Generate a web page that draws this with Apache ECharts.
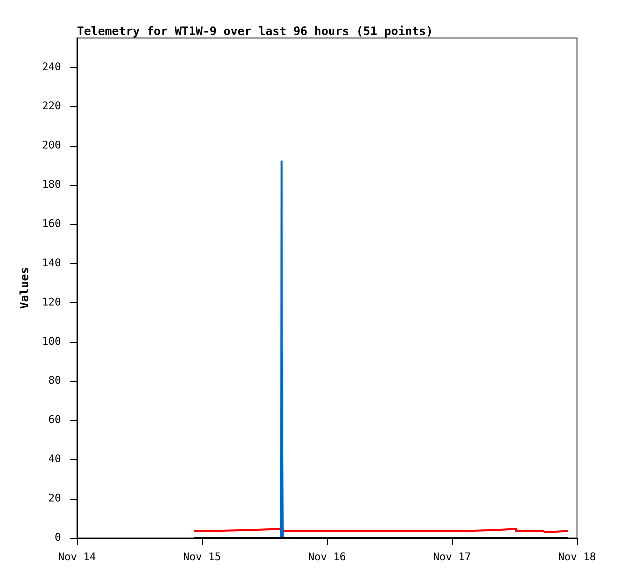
<!DOCTYPE html>
<html><head><meta charset="utf-8">
<script src="https://cdn.jsdelivr.net/npm/echarts@6/dist/echarts.min.js"></script>
<style>html,body{margin:0;padding:0;background:#fff}#c{width:618px;height:579px}</style>
</head><body><div id="c"></div>
<script>
// hours since Nov 14 00:00
const xTickLabels = ['Nov 14','Nov 15','Nov 16','Nov 17','Nov 18'];
const yMax = 255;
// red series (step values: value holds from its time until the next time)
const redTimes  = [22.5, 26.3, 34.0, 39.36, 75.05, 81.0, 84.3, 89.4, 90.0, 94.3];
const redValues = [3.6, 4.15, 4.7, 3.6, 4.15, 4.7, 3.6, 2.9, 3.6, 3.6];
// blue series (spike)
const blueTimes  = [39.2, 39.28, 39.3, 39.5, 39.5];
const blueValues = [0, 192.5, 96.5, 96.5, 0];
// black series (zero)
const blackTimes  = [22.5, 94.3];
const blackValues = [0, 0];

const zip = (a, b) => a.map((t, i) => [t, b[i]]);
function stepData(ts, vs) {
  const out = [[ts[0], vs[0]]];
  for (let i = 1; i < ts.length; i++) {
    out.push([ts[i], vs[i - 1]]);
    out.push([ts[i], vs[i]]);
  }
  return out;
}
const chart = echarts.init(document.getElementById('c'), null, {renderer: 'canvas', devicePixelRatio: 4});
const mono = 'DejaVu Sans Mono, Liberation Mono, monospace';
chart.setOption({
  animation: false,
  title: {
    text: 'Telemetry for WT1W-9 over last 96 hours (51 points)',
    left: 72, top: 21,
    textStyle: {fontFamily: mono, fontSize: 11.6, fontWeight: 'bold', color: '#000'}
  },
  grid: {left: 77, right: 41, top: 38, bottom: 41, show: true, borderColor: '#444', borderWidth: 1, backgroundColor: 'transparent'},
  xAxis: {
    type: 'value', min: 0, max: 96, interval: 24,
    axisLine: {show: true, lineStyle: {color: '#000', width: 1}},
    axisTick: {show: true, length: 7, inside: false, lineStyle: {color: '#000'}},
    splitLine: {show: false},
    axisLabel: {
      margin: 14, fontFamily: mono, fontSize: 10.5, color: '#000',
      formatter: v => xTickLabels[Math.round(v / 24)] || ''
    }
  },
  yAxis: {
    type: 'value', min: 0, max: yMax, interval: 20,
    name: 'Values', nameLocation: 'middle', nameGap: 34,
    nameTextStyle: {fontFamily: mono, fontSize: 11.6, fontWeight: 'bold', color: '#000'},
    axisLine: {show: true, lineStyle: {color: '#000', width: 1}},
    axisTick: {show: true, length: 7, lineStyle: {color: '#000'}},
    splitLine: {show: false},
    axisLabel: {
      margin: 16, fontFamily: mono, fontSize: 10.5, color: '#000',
      formatter: v => (v > 240 ? '' : String(v)),
      showMaxLabel: false
    }
  },
  series: [
    {type: 'line', data: stepData(redTimes, redValues), symbol: 'none', lineStyle: {color: '#ff0000', width: 2, join: 'miter'}, z: 2},
    {type: 'line', data: zip(blueTimes, blueValues), symbol: 'none', lineStyle: {color: '#0066cc', width: 2, join: 'miter'}, z: 3},
    {type: 'line', data: zip(blackTimes, blackValues), symbol: 'none', lineStyle: {color: '#000', width: 2}, z: 4}
  ]
});
</script></body></html>
